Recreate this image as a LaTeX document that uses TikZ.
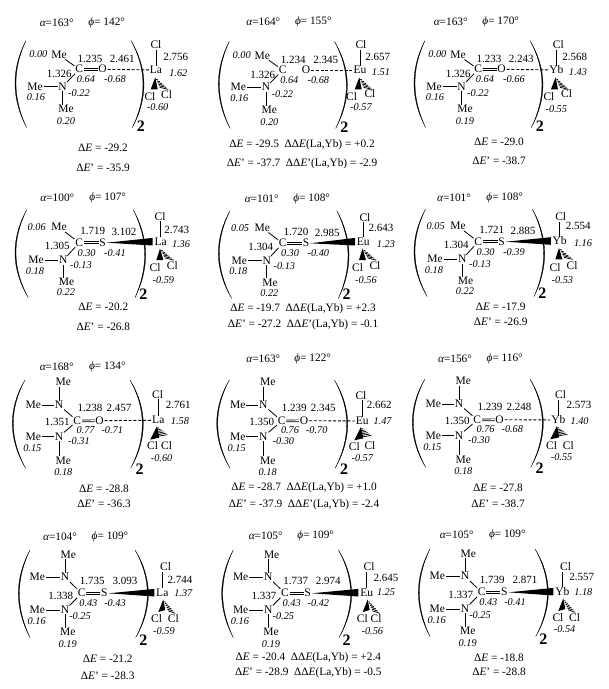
\documentclass[tikz,border=0pt]{standalone}
\usepackage{fontspec}
\setmainfont{Liberation Serif}
\usetikzlibrary{calc}
\tikzset{
  zoomed/.style={x=.3333pt,y=-.3333pt},
  atomnode/.style={inner sep=.7pt,font=\fontsize{11.5}{12}\selectfont,text height=7.2pt,text depth=0pt},
  numnode/.style={inner sep=0pt,font=\fontsize{11}{12}\selectfont},
  chgnode/.style={inner sep=0pt,font=\fontsize{10.3}{12}\selectfont\itshape},
  textnode/.style={inner sep=0pt,font=\fontsize{11.3}{12}\selectfont},
  twonode/.style={inner sep=0pt,font=\fontsize{16}{16}\selectfont\bfseries},
  bond/.style={line width=.8pt,black},
  dbl/.style={line width=.7pt,double,double distance=1.1pt,black},
  dashlink/.style={line width=.9pt,dash pattern=on 3pt off 1.8pt,black},
  parenshape/.style={fill=black,draw=black,line width=.3pt},
  hashline/.style={line width=.75pt,black}
}
\newcommand\atom[3]{\node[atomnode] (#1) at (#2) {#3};}
\newcommand\num[3]{\node[numnode] (#1) at (#2) {#3};}
\newcommand\chg[3]{\node[chgnode] (#1) at (#2) {#3};}
\newcommand\vals[9]{\def\qTop{#1}\def\qLeft{#2}\def\qBot{#3}\def\qN{#4}\def\qC{#5}\def\qX{#6}\def\dCN{#7}\def\dCX{#8}\def\dXM{#9}}
% lens-shaped bracket: x1,y1, mx,my, x2,y2, thickness
\newcommand\paren[7]{%
  \pgfmathsetmacro\cxa{(8*(#3)-(#1)-(#5))/6}%
  \pgfmathsetmacro\cxb{(8*((#3)+(#7))-(#1)-(#5))/6}%
  \pgfmathsetmacro\cya{(#2)+((#4)-(#2))*2/3}%
  \pgfmathsetmacro\cyb{(#6)+((#4)-(#6))*2/3}%
  \path[parenshape] (#1,#2) .. controls (\cxa,\cya) and (\cxa,\cyb) .. (#5,#6)
     .. controls (\cxb,\cyb) and (\cxb,\cya) .. (#1,#2) -- cycle;}
\newcommand\DE{Δ{\itshape E}}
\newcommand\DEp{Δ{\itshape E\/}'}
\newcommand\DDE{ΔΔ{\itshape E}(La,Yb)}
\newcommand\DDEp{ΔΔ{\itshape E\/}'(La,Yb)}
\newcommand\heads[6]{%
  \node[textnode] (ha) at (#1,#3) {{\itshape α}=#4°};
  \node[textnode] (hp) at (#2,#3) {{\itshape ϕ}= #5°};
  \ignorespaces}
\newcommand\energies[5]{%
  \node[textnode] (ea) at (#1,#2) {#4};
  \node[textnode] (eb) at (#1,#3) {#5};}
% one-nitrogen ligands
\newcommand\ligA[2]{% amide
  \begin{scope}[shift={(#1)},zoomed]
  \atom{C}{0,0}{C}\atom{X}{70,0}{#2}
  \atom{MeT}{-61,-43}{Me}\chg{qT}{-123,-45}{\qTop}
  \atom{N}{-50,52}{N}\atom{MeL}{-133,52}{Me}\chg{qL}{-130,84}{\qLeft}
  \atom{MeB}{-40,120}{Me}\chg{qB}{-40,157}{\qBot}
  \chg{qN}{-1,72}{\qN}\chg{qC}{20,31}{\qC}\chg{qX}{107,31}{\qX}
  \num{dCN}{-60,14}{\dCN}\num{dCX}{32,-30}{\dCX}\num{dXM}{129,-30}{\dXM}
  \draw[bond] (MeT) -- (C);\draw[bond] (N) -- (C);\draw[bond] (MeL) -- (N);
  \draw[bond] (N) -- (N |- MeB.north);\draw[dbl] (C) -- (X);
  \paren{-160}{-86}{-193}{42}{-158}{175}{3}
  \paren{155}{-86}{194}{42}{159}{175}{-3}
  \node[twonode] (two) at (185,172) {2};
  \end{scope}}
\newcommand\ligB[2]{% thioamide
  \begin{scope}[shift={(#1)},zoomed]
  \atom{C}{0,0}{C}\atom{X}{70,0}{#2}
  \atom{MeT}{-61,-46}{Me}\chg{qT}{-128,-46}{\qTop}
  \atom{N}{-48,52}{N}\atom{MeL}{-130,52}{Me}\chg{qL}{-133,84}{\qLeft}
  \atom{MeB}{-38,119}{Me}\chg{qB}{-40,149}{\qBot}
  \chg{qN}{5,68}{\qN}\chg{qC}{22,30}{\qC}\chg{qX}{107,30}{\qX}
  \num{dCN}{-66,11}{\dCN}\num{dCX}{40,-35}{\dCX}\num{dXM}{134,-31}{\dXM}
  \draw[bond] (MeT) -- (C);\draw[bond] (N) -- (C);\draw[bond] (MeL) -- (N);
  \draw[bond] (N) -- (N |- MeB.north);\draw[dbl] (C) -- (X);
  \paren{-158}{-98}{-193}{32}{-153}{165}{3}
  \paren{162}{-98}{199}{32}{167}{165}{-3}
  \node[twonode] (two) at (192,154) {2};
  \end{scope}}
\newcommand\ligC[2]{% urea
  \begin{scope}[shift={(#1)},zoomed]
  \atom{C}{0,0}{C}\atom{X}{67,-1}{#2}
  \atom{NA}{-55,-48}{N}\atom{MeT}{-42,-116}{Me}\atom{MeA}{-132,-48}{Me}
  \atom{N}{-55,47}{N}\atom{MeL}{-132,47}{Me}\chg{qL}{-135,82}{\qLeft}
  \atom{MeB}{-42,119}{Me}\chg{qB}{-42,154}{\qBot}
  \chg{qN}{5,60}{\qN}\chg{qC}{25,28}{\qC}\chg{qX}{105,27}{\qX}
  \num{dCN}{-60,4}{\dCN}\num{dCX}{38,-38}{\dCX}\num{dXM}{125,-38}{\dXM}
  \draw[bond] (NA) -- (C);\draw[bond] (N) -- (C);\draw[bond] (MeL) -- (N);
  \draw[bond] (MeA) -- (NA);\draw[bond] (NA) -- (NA |- MeT.south);
  \draw[bond] (N) -- (N |- MeB.north);\draw[dbl] (C) -- (X);
  \paren{-157}{-123}{-195}{7}{-155}{142}{3}
  \paren{158}{-123}{198}{7}{160}{142}{-3}
  \node[twonode] (two) at (187,144) {2};
  \end{scope}}
\newcommand\ligD[2]{% thiourea
  \begin{scope}[shift={(#1)},zoomed]
  \atom{C}{0,0}{C}\atom{X}{68,0}{#2}
  \atom{NA}{-50,-48}{N}\atom{MeT}{-40,-115}{Me}\atom{MeA}{-133,-48}{Me}
  \atom{N}{-50,50}{N}\atom{MeL}{-133,50}{Me}\chg{qL}{-135,85}{\qLeft}
  \atom{MeB}{-42,117}{Me}\chg{qB}{-42,153}{\qBot}
  \chg{qN}{-5,68}{\qN}\chg{qC}{20,30}{\qC}\chg{qX}{100,30}{\qX}
  \num{dCN}{-63,7}{\dCN}\num{dCX}{32,-37}{\dCX}\num{dXM}{130,-37}{\dXM}
  \draw[bond] (NA) -- (C);\draw[bond] (N) -- (C);\draw[bond] (MeL) -- (N);
  \draw[bond] (MeA) -- (NA);\draw[bond] (NA) -- (NA |- MeT.south);
  \draw[bond] (N) -- (N |- MeB.north);\draw[dbl] (C) -- (X);
  \paren{-155}{-130}{-190}{0}{-155}{133}{3}
  \paren{160}{-130}{200}{0}{162}{133}{-3}
  \node[twonode] (two) at (185,140) {2};
  \end{scope}}
\newcommand\mpos[6]{\def\pCl{#1}\def\pD{#2}\def\pQ{#3}\def\pClL{#4}\def\pClR{#5}\def\pQCl{#6}}
% metal group: position, element, d(M-Cl), q(M), q(Cl)
\newcommand\metal[5]{%
  \begin{scope}[shift={(#1)},zoomed]
  \atom{M}{0,0}{#2}\atom{ClT}{\pCl}{Cl}\atom{ClL}{\pClL}{Cl}\atom{ClR}{\pClR}{Cl}
  \num{dM}{\pD}{#3}\chg{qM}{\pQ}{#4}\chg{qCl}{\pQCl}{#5}
  \draw[bond] (M.north) -- (M.north |- ClT.south);
  \clshape
  \end{scope}}
% wedge + hash: apex, base left, base right, hash end, half length x, half length y
\newcommand\clgeom[6]{\def\clshape{%
  \coordinate (wa) at (#1);\coordinate (wl) at (#2);\coordinate (wr) at (#3);\coordinate (he) at (#4);
  \fill[black] (wa) -- (wl) -- (wr) -- cycle;
  \foreach \t in {.2,.36,.52,.68,.84,1}{
    \draw[hashline] ($(wa)!\t!(he)+(-\t*#5,-\t*#6)$) -- ($(wa)!\t!(he)+(\t*#5,\t*#6)$);}}}
\newcommand\linkdash{\draw[dashlink] (X) -- (M);}
\newcommand\linkwedge{\fill[black] (X.east) -- ($(M.west)+(-1,3.8)$) -- ($(M.west)+(-1,-3.8)$) -- cycle;}
\newcommand\geomA{\clgeom{-2,22}{-16,58}{5,58}{24,55}{13}{3}}
\newcommand\geomB{\clgeom{-2,20}{-13,55}{8,55}{26,52}{13}{3}}
\newcommand\geomC{\clgeom{-4,18}{-24,58}{3,52}{10,46}{17}{-3}}
\newcommand\geomD{\clgeom{3,20}{-12,58}{9,52}{28,58}{11}{4}}
\begin{document}
\begin{tikzpicture}[x=1pt,y=-1pt]
\useasboundingbox (0,0) rectangle (609,689);
\fill[white] (0,0) rectangle (609,689);
% ---- row 1
\begin{scope}[name prefix=a1-]
\heads{56.7}{106.7}{23}{163}{142}{}
\energies{103}{148}{168}{\DE{} = -29.2}{\DEp{} = -35.9}
\vals{0.00}{0.16}{0.20}{-0.22}{0.64}{-0.68}{1.326}{1.235}{2.461}
\ligA{79.3,69.3}{O}
\mpos{0,-75}{59,-40}{67,8}{-18,82}{32,74}{5,112}\geomA
\metal{156,70}{La}{2.756}{1.62}{-0.60}\linkdash
\end{scope}
\begin{scope}[name prefix=a2-]
\heads{263.3}{313.3}{22}{164}{155}{}
\energies{302}{144.3}{164}{\DE{} = -29.5\ \ \DDE{} = +0.2}{\DEp{} = -37.7\ \ \DDEp{} = -2.9}
\vals{0.00}{0.16}{0.20}{-0.22}{0.64}{-0.68}{1.326}{1.234}{2.345}
\ligA{282.7,70}{O}
\mpos{3,-75}{53,-40}{63,8}{-25,80}{30,73}{3,112}\geomA
\metal{360,70}{Eu}{2.657}{1.51}{-0.57}\linkdash
\end{scope}
\begin{scope}[name prefix=a3-]
\heads{450.7}{500.7}{21.5}{163}{170}{}
\energies{499}{141.7}{161}{\DE{} = -29.0}{\DEp{} = -38.7}
\vals{0.00}{0.16}{0.19}{-0.22}{0.64}{-0.66}{1.326}{1.233}{2.243}
\ligA{478.3,69.3}{O}
\mpos{6,-75}{55,-40}{65,7}{-22,80}{31,73}{0,117}\geomA
\metal{556.3,70}{Yb}{2.568}{1.43}{-0.55}\linkdash
\end{scope}
% ---- row 2
\begin{scope}[name prefix=b1-]
\heads{57.3}{107.7}{197.5}{100}{107}{}
\energies{103.3}{307.3}{326.7}{\DE{} = -20.2}{\DEp{} = -26.8}
\vals{0.06}{0.18}{0.22}{-0.13}{0.30}{-0.41}{1.305}{1.719}{3.102}
\ligB{79.3,242.7}{S}
\mpos{-2,-75}{48,-35}{61,7}{-17,80}{35,72}{8,115}\geomB
\metal{160.7,241.7}{La}{2.743}{1.36}{-0.59}\linkwedge
\end{scope}
\begin{scope}[name prefix=b2-]
\heads{261.7}{311.7}{198.7}{101}{108}{}
\energies{303}{309}{324.3}{\DE{} = -19.7\ \ \DDE{} = +2.3}{\DEp{} = -27.2\ \ \DDEp{} = -0.1}
\vals{0.05}{0.18}{0.22}{-0.13}{0.30}{-0.40}{1.304}{1.720}{2.985}
\ligB{282.7,243.3}{S}
\mpos{5,-72}{53,-40}{68,7}{-17,80}{35,72}{8,115}\geomB
\metal{363.3,241.7}{Eu}{2.643}{1.23}{-0.56}\linkwedge
\end{scope}
\begin{scope}[name prefix=b3-]
\heads{454}{504.7}{198}{101}{108}{}
\energies{500.7}{306.7}{321.7}{\DE{} = -17.9}{\DEp{} = -26.9}
\vals{0.05}{0.18}{0.22}{-0.13}{0.30}{-0.39}{1.304}{1.721}{2.885}
\ligB{478.3,241.7}{S}
\mpos{3,-71}{56,-45}{70,7}{-14,82}{37,75}{8,117}\geomB
\metal{559.7,241}{Yb}{2.554}{1.16}{-0.53}\linkwedge
\end{scope}
% ---- row 3
\begin{scope}[name prefix=c1-]
\heads{56.7}{107.3}{367}{168}{134}{}
\energies{104}{489}{504.3}{\DE{} = -28.8}{\DEp{} = -36.3}
\vals{}{0.15}{0.18}{-0.31}{0.77}{-0.71}{1.351}{1.238}{2.457}
\ligC{77.3,421}{O}
\mpos{-2,-76}{60,-46}{65,2}{-17,77}{25,77}{10,114}\geomC
\metal{158.3,420.3}{La}{2.761}{1.58}{-0.60}\linkdash
\end{scope}
\begin{scope}[name prefix=c2-]
\heads{263.3}{312.7}{358.7}{163}{122}{}
\energies{304}{487.7}{504.3}{\DE{} = -28.7\ \ \DDE{} = +1.0}{\DEp{} = -37.9\ \ \DDEp{} = -2.4}
\vals{}{0.15}{0.18}{-0.30}{0.76}{-0.70}{1.350}{1.239}{2.345}
\ligC{281.7,421}{O}
\mpos{-4,-76}{51,-48}{61,0}{-24,77}{23,75}{0,112}\geomC
\metal{362.3,421}{Eu}{2.662}{1.47}{-0.57}\linkdash
\end{scope}
\begin{scope}[name prefix=c3-]
\heads{455}{504.7}{359.2}{156}{116}{}
\energies{498}{487.7}{504.3}{\DE{} = -27.8}{\DEp{} = -38.7}
\vals{}{0.15}{0.18}{-0.30}{0.76}{-0.68}{1.350}{1.239}{2.248}
\ligC{477.3,420}{O}
\mpos{7,-75}{62,-45}{64,2}{-20,77}{30,77}{10,112}\geomC
\metal{558.3,420}{Yb}{2.573}{1.40}{-0.55}\linkdash
\end{scope}
% ---- row 4
\begin{scope}[name prefix=d1-]
\heads{60}{110}{537}{104}{109}{}
\energies{107.7}{659.3}{676}{\DE{} = -21.2}{\DEp{} = -28.3}
\vals{}{0.16}{0.19}{-0.25}{0.43}{-0.43}{1.338}{1.735}{3.093}
\ligD{81.7,593.3}{S}
\mpos{10,-76}{53,-38}{63,0}{-17,79}{33,79}{5,114}\geomD
\metal{162.3,592.7}{La}{2.744}{1.37}{-0.59}\linkwedge
\end{scope}
\begin{scope}[name prefix=d2-]
\heads{265.7}{315.7}{536.2}{105}{109}{}
\energies{308.3}{657.3}{672.7}{\DE{} = -20.4\ \ \DDE{} = +2.4}{\DEp{} = -28.9\ \ \DDE{} = -0.5}
\vals{}{0.16}{0.19}{-0.25}{0.43}{-0.42}{1.337}{1.737}{2.974}
\ligD{285,593.3}{S}
\mpos{7,-76}{58,-43}{58,-1}{-13,80}{28,80}{17,115}\geomD
\metal{366.7,592.7}{Eu}{2.645}{1.25}{-0.56}\linkwedge
\end{scope}
\begin{scope}[name prefix=d3-]
\heads{456.7}{507.3}{535}{105}{109}{}
\energies{499}{658.3}{671.7}{\DE{} = -18.8}{\DEp{} = -28.8}
\vals{}{0.16}{0.19}{-0.25}{0.43}{-0.41}{1.337}{1.739}{2.871}
\ligD{481.7,592.3}{S}
\mpos{10,-73}{58,-43}{63,2}{-13,80}{37,80}{7,113}\geomD
\metal{562.3,591.7}{Yb}{2.557}{1.18}{-0.54}\linkwedge
\end{scope}
\end{tikzpicture}
\end{document}
